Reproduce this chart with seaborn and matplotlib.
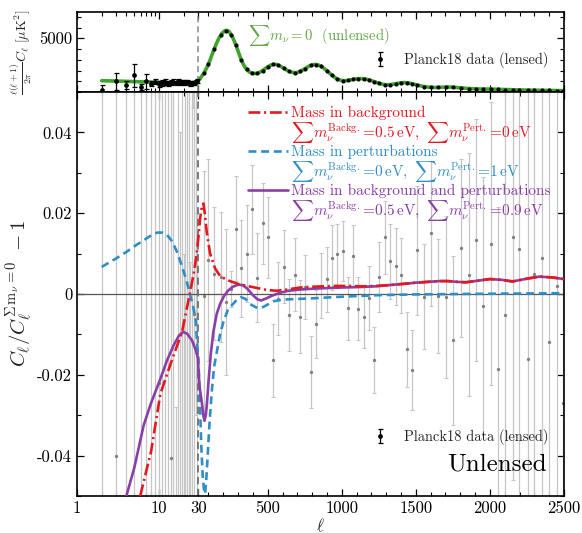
import numpy as np
import matplotlib
matplotlib.use("Agg")
import matplotlib.pyplot as plt
import seaborn as sns
import pandas as pd
from matplotlib.lines import Line2D
from matplotlib.ticker import FixedLocator, FixedFormatter, MultipleLocator, NullFormatter

# ---------------- data ----------------
# top panel: unlensed theory D_ell (sum m_nu = 0)
ell_theory = [2,3,4,6,8,10,13,16,20,25,30,40,50,70,90,110,130,150,170,190,210,225,240,260,280,300,320,340,360,380,
              400,420,440,460,480,500,520,540,560,580,600,620,640,660,680,700,720,740,760,780,800,820,840,860,880,900,
              920,940,960,980,1000,1020,1040,1060,1080,1100,1130,1160,1190,1220,1250,1280,1300,1330,1360,1390,1420,
              1450,1480,1510,1550,1590,1630,1670,1710,1750,1800,1850,1900,1950,2000,2050,2100,2200,2300,2400,2500]
D_theory = [1050,1020,990,950,920,900,870,850,830,870,980,1180,1380,1800,2300,2950,3700,4400,5000,5450,5700,5740,
            5620,5200,4550,3800,3050,2450,2050,1830,1740,1730,1800,1950,2150,2350,2500,2580,2560,2450,2280,2100,1950,
            1840,1800,1820,1920,2080,2250,2420,2530,2570,2530,2400,2200,1980,1720,1480,1300,1150,1070,1050,1080,1130,
            1190,1230,1250,1210,1110,960,820,710,670,690,760,840,880,850,760,640,520,440,420,440,470,450,390,330,290,
            275,270,255,230,190,165,145,125]

# Planck low-ell points
ell_low = list(range(2, 30))
D_low = [213,980,676,1540,460,980,770,950,770,880,920,780,870,960,830,990,880,940,800,900,950,820,760,780,870,810,960,1020]
D_low_err = [460,800,370,1080,250,680,250,250,300,280,260,250,240,230,220,210,200,195,190,185,180,175,170,165,160,155,150,150]
res_low = [-0.79,-0.040,-0.32,0.55,-0.50,0.06,-0.16,-0.10,-0.022,0.12,-0.15,0.09,-0.0405,-0.09,-0.07,0.11,-0.12,0.08,
           -0.14,0.10,-0.09,0.07,-0.06,-0.08,0.08,-0.005,0.09,-0.10]
res_low_err = [0.95,0.35,0.45,0.7,0.6,0.3,0.3,0.25,0.2,0.22,0.21,0.2,0.19,0.18,0.042,0.17,0.16,0.16,0.15,0.15,0.14,
               0.14,0.068,0.13,0.034,0.13,0.12,0.12]

# Planck binned high-ell points
ell_bin = [70,100,138,183,217,253,286,322,358,392,428,466,500,538,572,610,646,684,718,751,790,826,860,898,932,970,
           1006,1042,1078,1112,1148,1184,1220,1254,1292,1325,1366,1400,1438,1474,1506,1553,1602,1652,1704,1753,1805,
           1856,1906,1955,2007,2057,2102,2153,2198,2254,2299,2349,2400,2452,2490]
D_bin = [1800,2600,4000,5300,5720,5350,4350,3000,2100,1760,1750,2000,2350,2580,2500,2200,1920,1800,1910,2170,2480,
         2560,2400,2000,1580,1220,1060,1090,1190,1240,1230,1130,960,800,680,690,780,860,870,780,650,510,430,430,470,
         450,380,320,290,275,268,250,230,210,190,178,165,155,145,135,128]
res_bin = [-0.0005,0.0083,0.0050,0.0042,-0.0020,0.0013,0.0162,0.0064,0.0100,0.0210,0.0040,0.0175,0.0140,-0.0164,
           -0.0012,0.0068,-0.0052,0.0048,-0.0056,0.0017,-0.0193,-0.0074,0.0021,0.0036,0.0090,0.0098,0.0106,-0.0035,
           0.0095,-0.0036,-0.0056,-0.0010,-0.0164,0.0042,0.0140,0.0081,0.0069,0.0046,-0.0137,-0.0189,0.0108,-0.0007,
           0.0150,-0.0005,-0.0007,-0.0115,0.0114,0.0048,0.0133,-0.0030,0.0125,-0.0185,-0.0051,0.0140,0.0112,-0.0160,
           0.0050,0.0090,-0.0120,0.0020,-0.0270]
res_bin_err = [0.031,0.025,0.0165,0.016,0.018,0.0045,0.013,0.012,0.012,0.011,0.011,0.010,0.010,0.009,0.009,0.009,
               0.009,0.009,0.009,0.008,0.009,0.0085,0.008,0.008,0.008,0.0075,0.0075,0.0078,0.0077,0.0077,0.0078,0.008,
               0.0082,0.0087,0.0091,0.0093,0.0095,0.0093,0.0093,0.0099,0.016,0.013,0.018,0.014,0.020,0.021,0.022,0.030,
               0.030,0.032,0.035,0.040,0.060,0.060,0.070,0.070,0.080,0.080,0.090,0.100,0.100]

# residual curves
red_l = [5.9,8,10.4,14,19.1,24,26.5,28.7,35,43.5,55,66,75,88,111,145,178,223,260,300,360,426,494,561,628,718,800,876,
         960,1056,1140,1236,1320,1415,1500,1580,1660,1715,1780,1838,1920,2000,2080,2153,2250,2333,2420,2500]
red_v = [-0.050,-0.039,-0.0247,-0.017,-0.0094,0.0005,0.005,0.0096,0.015,0.0187,0.0215,0.0224,0.020,0.0154,0.010,
         0.0063,0.0045,0.0035,0.0030,0.0025,0.0020,0.0015,0.0010,0.0008,0.0011,0.0016,0.0018,0.0019,0.0020,0.0020,
         0.0019,0.0020,0.0022,0.0025,0.0028,0.0030,0.0032,0.0032,0.0030,0.0029,0.0033,0.0037,0.0035,0.0031,0.0038,
         0.0043,0.0041,0.0037]
blue_l = [2,3,4,5,6.5,8,9.5,11,12.5,14.5,16.6,19,21.9,24,26,28,29.3,31,37,43.5,52,61,70,77,85,93,107,122,138,156,
          178,201,230,257,290,320,350,381,420,455,490,538,600,651,786,988,1236,1500,1800,2100,2500]
blue_v = [0.0067,0.0088,0.0104,0.0118,0.0133,0.0145,0.0152,0.0152,0.0147,0.0130,0.0104,0.0070,0.0030,-0.0003,
          -0.0028,-0.0065,-0.0127,-0.016,-0.021,-0.0284,-0.038,-0.045,-0.0485,-0.0495,-0.046,-0.041,-0.032,-0.0243,
          -0.018,-0.0144,-0.010,-0.0069,-0.004,-0.0028,-0.0015,-0.0008,-0.0012,-0.0025,-0.0033,-0.0035,-0.0028,
          -0.0018,-0.0014,-0.0013,-0.0011,-0.0007,-0.0003,-0.0001,0.0,0.0001,0.0002]
purple_l = [4,5,6.5,8,10.4,12.5,15.1,17.5,19.6,22,25.3,28,30,32,40,55,65,73,82,90,100,115,133,155,178,205,234,265,300,
            330,360,403,430,455,490,530,583,640,720,800,921,1000,1101,1230,1320,1415,1500,1580,1660,1715,1780,1838,
            1920,2000,2080,2153,2250,2333,2420,2500]
purple_v = [-0.050,-0.043,-0.0325,-0.027,-0.021,-0.0165,-0.0127,-0.0103,-0.0094,-0.0098,-0.0115,-0.0138,-0.016,
            -0.0185,-0.023,-0.0268,-0.030,-0.0313,-0.030,-0.027,-0.0218,-0.015,-0.0094,-0.0050,-0.0025,-0.0005,0.0009,
            0.0018,0.0023,0.0022,0.0014,-0.0004,-0.0013,-0.0016,-0.0011,-0.0004,0.0003,0.0008,0.0011,0.0013,0.0015,
            0.0016,0.0017,0.0019,0.0022,0.0025,0.0028,0.0030,0.0032,0.0032,0.0030,0.0029,0.0033,0.0037,0.0035,0.0031,
            0.0038,0.0043,0.0041,0.0037]

xtick_major = [1, 10, 30, 500, 1000, 1500, 2000, 2500]
xtick_labels = ["1", "10", "30", "500", "1000", "1500", "2000", "2500"]
ytick_main = [-0.04, -0.02, 0.0, 0.02, 0.04]
ytick_main_labels = ["-0.04", "-0.02", "0", "0.02", "0.04"]

RED, BLUE, PURPLE, GREEN = "#e4191f", "#2f8ec6", "#8a3ea8", "#3ea52a"
BAR = "#c6c6c6"

# ---------------- style ----------------
sns.set_theme(style="ticks")
plt.rcParams.update({
    "font.family": ["cmr10", "DejaVu Serif"],
    "mathtext.fontset": "cm",
    "axes.unicode_minus": False,
    "axes.formatter.use_mathtext": True,
    "xtick.direction": "in", "ytick.direction": "in",
    "xtick.top": True, "ytick.right": True,
    "axes.linewidth": 1.2,
    "axes.edgecolor": "black",
    "xtick.color": "black", "ytick.color": "black",
    "xtick.labelsize": 12, "ytick.labelsize": 12,
    "xtick.major.size": 5, "ytick.major.size": 5,
    "xtick.minor.size": 2.8, "ytick.minor.size": 2.8,
    "xtick.major.width": 0.9, "ytick.major.width": 0.9,
    "xtick.minor.width": 0.8, "ytick.minor.width": 0.8,
})

LIN = 4.463 / 2470.0
L30 = np.log10(30.0)

def fwd(x):
    x = np.asarray(x, dtype=float)
    lo = np.log10(np.clip(x, 1e-6, None))
    hi = L30 + (x - 30.0) * LIN
    return np.where(x <= 30, lo, hi)

def inv(y):
    y = np.asarray(y, dtype=float)
    lo = 10.0 ** np.clip(y, -6, 6)
    hi = 30.0 + (y - L30) / LIN
    return np.where(y <= L30, lo, hi)

minor_x = [2, 3, 4, 5, 6, 7, 8, 9, 20] + [v for v in range(100, 2500, 100) if v % 500 != 0]

fig = plt.figure(figsize=(5.82, 5.33), dpi=100)
ax_top = fig.add_axes([77/582, 1 - 92/533, 487/582, 80/533])
ax = fig.add_axes([77/582, 37/533, 487/582, 404/533])

for a in (ax_top, ax):
    a.set_xscale("function", functions=(fwd, inv))
    a.set_xlim(1, 2500)
    a.xaxis.set_major_locator(FixedLocator(xtick_major))
    a.xaxis.set_minor_locator(FixedLocator(minor_x))
    a.xaxis.set_minor_formatter(NullFormatter())
    a.tick_params(which="both", top=True, right=True, direction="in")

# ---------------- top panel ----------------
df_top = pd.DataFrame({"ell": ell_theory, "D": D_theory})
sns.lineplot(data=df_top, x="ell", y="D", ax=ax_top, color=GREEN, lw=2.6, legend=False, zorder=2)
eb_top = ax_top.errorbar(ell_low, D_low, yerr=D_low_err, fmt="o", ms=2.4, color="black", ecolor="black",
                         elinewidth=0.9, capsize=1.8, capthick=0.9, zorder=3)
sns.scatterplot(x=ell_bin, y=D_bin, ax=ax_top, color="black", s=9, linewidth=0, zorder=4)
ax_top.axvline(30, color="#888888", ls=(0, (4, 2.5)), lw=1.1, zorder=1)
ax_top.set_ylim(0, 7450)
ax_top.yaxis.set_major_locator(FixedLocator([5000]))
ax_top.yaxis.set_major_formatter(FixedFormatter(["5000"]))
ax_top.yaxis.set_minor_locator(MultipleLocator(1000))
ax_top.xaxis.set_major_formatter(NullFormatter())
ax_top.set_xlabel("")
ax_top.set_ylabel(r"$\frac{\ell(\ell+1)}{2\pi}C_\ell\ [\mu{\rm K}^2]$", fontsize=10)
ax_top.yaxis.set_label_coords(-0.088, 0.5)
ax_top.text(0.351, 0.70, r"$\sum m_\nu=0$  (unlensed)", transform=ax_top.transAxes, color="#63a646",
            fontsize=10.6, ha="left", va="center")
ax_top.legend([eb_top], ["Planck18 data (lensed)"], loc="center right", bbox_to_anchor=(0.985, 0.40),
              frameon=False, fontsize=10.4, handlelength=0.9, handletextpad=1.2, borderpad=0.1,
              labelcolor="#222222")

# ---------------- main panel ----------------
ax.errorbar(ell_low, res_low, yerr=res_low_err, fmt="o", ms=2.4, color="#808080", mec="none",
            ecolor=BAR, elinewidth=0.9, capsize=1.6, capthick=0.8, zorder=1)
ax.errorbar(ell_bin, res_bin, yerr=res_bin_err, fmt="o", ms=2.4, color="#808080", mec="none",
            ecolor=BAR, elinewidth=0.9, capsize=1.6, capthick=0.8, zorder=1)
ax.axhline(0, color="#555555", lw=0.9, zorder=2)
ax.axvline(30, color="#707070", ls=(0, (4, 2.5)), lw=1.3, zorder=2)

df_red = pd.DataFrame({"ell": red_l, "r": red_v})
df_blue = pd.DataFrame({"ell": blue_l, "r": blue_v})
df_pur = pd.DataFrame({"ell": purple_l, "r": purple_v})
sns.lineplot(data=df_pur, x="ell", y="r", ax=ax, color=PURPLE, lw=1.9, legend=False, zorder=4)
sns.lineplot(data=df_blue, x="ell", y="r", ax=ax, color=BLUE, lw=1.9, legend=False, zorder=3)
ax.lines[-1].set_dashes([3.0, 1.8])
sns.lineplot(data=df_red, x="ell", y="r", ax=ax, color=RED, lw=1.9, legend=False, zorder=5)
ax.lines[-1].set_dashes([4.5, 1.4, 0.8, 1.4])

ax.set_ylim(-0.05, 0.05)
ax.yaxis.set_major_locator(FixedLocator(ytick_main))
ax.yaxis.set_major_formatter(FixedFormatter(ytick_main_labels))
ax.yaxis.set_minor_locator(MultipleLocator(0.01))
ax.xaxis.set_major_formatter(FixedFormatter(xtick_labels))
ax.set_xlabel(r"$\ell$", fontsize=12)
ax.xaxis.set_label_coords(0.5, -0.052)
ax.set_ylabel(r"$C_\ell/C_\ell^{\Sigma\, \mathrm{m}_\nu=0}\ -1$", fontsize=15)
ax.yaxis.set_label_coords(-0.086, 0.5)

h_red = Line2D([], [], color=RED, lw=1.9, dashes=[4.5, 1.4, 0.8, 1.4])
h_blue = Line2D([], [], color=BLUE, lw=1.9, dashes=[3.0, 1.8])
h_pur = Line2D([], [], color=PURPLE, lw=1.9)
h_none = Line2D([], [], color="none")
labels = ["Mass in background",
          r"$\sum m_\nu^{\rm Backg.}\!=\!0.5\,{\rm eV},\ \sum m_\nu^{\rm Pert.}\!=\!0\,{\rm eV}$",
          "Mass in perturbations",
          r"$\sum m_\nu^{\rm Backg.}\!=\!0\,{\rm eV},\ \sum m_\nu^{\rm Pert.}\!=\!1\,{\rm eV}$",
          "Mass in background and perturbations",
          r"$\sum m_\nu^{\rm Backg.}\!=\!0.5\,{\rm eV},\ \sum m_\nu^{\rm Pert.}\!=\!0.9\,{\rm eV}$"]
leg1 = ax.legend([h_red, h_none, h_blue, h_none, h_pur, h_none], labels, loc="upper right",
                 bbox_to_anchor=(1.0, 1.0), frameon=False, fontsize=11, handlelength=2.6, handletextpad=0.2,
                 labelspacing=0.0, borderpad=0.4,
                 labelcolor=[RED, RED, BLUE, BLUE, PURPLE, PURPLE])
ax.add_artist(leg1)
ax.legend([eb_top], ["Planck18 data (lensed)"], loc="center right", bbox_to_anchor=(0.985, 0.146),
          frameon=False, fontsize=10.4, handlelength=0.9, handletextpad=1.2, borderpad=0.1, labelcolor="#222222")
ax.text(0.965, 0.077, "Unlensed", transform=ax.transAxes, fontsize=18, ha="right", va="center", color="black")

fig.savefig("out.png", dpi=100)
